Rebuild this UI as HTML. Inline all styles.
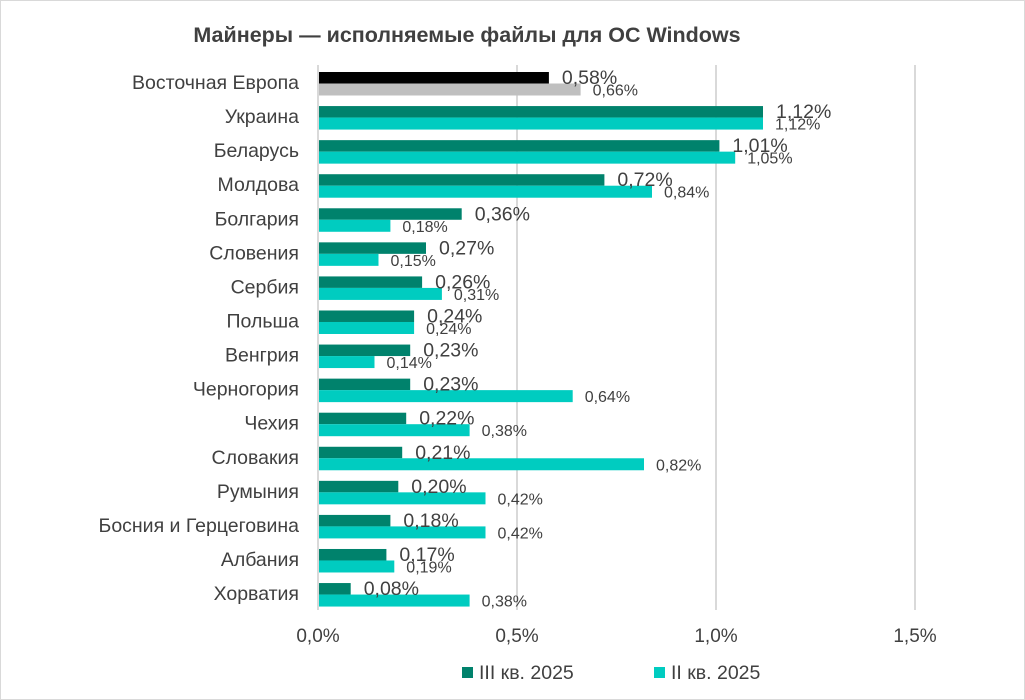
<!DOCTYPE html>
<html><head><meta charset="utf-8"><style>
html,body{margin:0;padding:0;background:#fff;}
svg{display:block;font-family:"Liberation Sans","DejaVu Sans",sans-serif;}
.n{font-size:19.5px;fill:#404040;text-anchor:end}
.a{font-size:19.5px;fill:#404040}
.b{font-size:16px;fill:#404040}
.d{fill:#00826c}.l{fill:#00ccc0}
</style></head><body>
<svg width="1025" height="700" viewBox="0 0 1025 700" xmlns="http://www.w3.org/2000/svg">
<rect x="0.5" y="0.5" width="1024" height="699" fill="#fff" stroke="#d9d9d9"/>
<text x="467" y="42" text-anchor="middle" font-size="21.5" font-weight="bold" fill="#404040">Майнеры — исполняемые файлы для ОС Windows</text>
<g stroke="#d9d9d9" stroke-width="2">
<line x1="318" y1="65" x2="318" y2="610"/>
<line x1="517" y1="65" x2="517" y2="610"/>
<line x1="716" y1="65" x2="716" y2="610"/>
<line x1="915" y1="65" x2="915" y2="610"/>
</g>

<rect x="319" y="72" width="229.9" height="11.5" fill="#000"/>
<rect x="319" y="83.5" width="261.6" height="12" fill="#bfbfbf"/>
<text class="a" x="561.9" y="84">0,58%</text><text class="b" x="592.6" y="95.5">0,66%</text>
<text class="n" x="299" y="89">Восточная Европа</text>

<rect class="d" x="319" y="106.07" width="444" height="11.5"/><rect class="l" x="319" y="117.57" width="444" height="12"/>
<text class="a" x="776" y="118.07">1,12%</text><text class="b" x="775" y="129.57">1,12%</text>
<text class="n" x="299" y="123.07">Украина</text>

<rect class="d" x="319" y="140.14" width="400.4" height="11.5"/><rect class="l" x="319" y="151.64" width="416.2" height="12"/>
<text class="a" x="732.4" y="152.14">1,01%</text><text class="b" x="747.2" y="163.64">1,05%</text>
<text class="n" x="299" y="157.14">Беларусь</text>

<rect class="d" x="319" y="174.21" width="285.4" height="11.5"/><rect class="l" x="319" y="185.71" width="333" height="12"/>
<text class="a" x="617.4" y="186.21">0,72%</text><text class="b" x="664" y="197.71">0,84%</text>
<text class="n" x="299" y="191.21">Молдова</text>

<rect class="d" x="319" y="208.28" width="142.7" height="11.5"/><rect class="l" x="319" y="219.78" width="71.4" height="12"/>
<text class="a" x="474.7" y="220.28">0,36%</text><text class="b" x="402.4" y="231.78">0,18%</text>
<text class="n" x="299" y="225.28">Болгария</text>

<rect class="d" x="319" y="242.35" width="107" height="11.5"/><rect class="l" x="319" y="253.85" width="59.5" height="12"/>
<text class="a" x="439" y="254.35">0,27%</text><text class="b" x="390.5" y="265.85">0,15%</text>
<text class="n" x="299" y="259.35">Словения</text>

<rect class="d" x="319" y="276.42" width="103.1" height="11.5"/><rect class="l" x="319" y="287.92" width="122.9" height="12"/>
<text class="a" x="435.1" y="288.42">0,26%</text><text class="b" x="453.9" y="299.92">0,31%</text>
<text class="n" x="299" y="293.42">Сербия</text>

<rect class="d" x="319" y="310.49" width="95.1" height="11.5"/><rect class="l" x="319" y="321.99" width="95.1" height="12"/>
<text class="a" x="427.1" y="322.49">0,24%</text><text class="b" x="426.1" y="333.99">0,24%</text>
<text class="n" x="299" y="327.49">Польша</text>

<rect class="d" x="319" y="344.56" width="91.2" height="11.5"/><rect class="l" x="319" y="356.06" width="55.5" height="12"/>
<text class="a" x="423.2" y="356.56">0,23%</text><text class="b" x="386.5" y="368.06">0,14%</text>
<text class="n" x="299" y="361.56">Венгрия</text>

<rect class="d" x="319" y="378.63" width="91.2" height="11.5"/><rect class="l" x="319" y="390.13" width="253.7" height="12"/>
<text class="a" x="423.2" y="390.63">0,23%</text><text class="b" x="584.7" y="402.13">0,64%</text>
<text class="n" x="299" y="395.63">Черногория</text>

<rect class="d" x="319" y="412.7" width="87.2" height="11.5"/><rect class="l" x="319" y="424.2" width="150.6" height="12"/>
<text class="a" x="419.2" y="424.7">0,22%</text><text class="b" x="481.6" y="436.2">0,38%</text>
<text class="n" x="299" y="429.7">Чехия</text>

<rect class="d" x="319" y="446.77" width="83.2" height="11.5"/><rect class="l" x="319" y="458.27" width="325" height="12"/>
<text class="a" x="415.2" y="458.77">0,21%</text><text class="b" x="656" y="470.27">0,82%</text>
<text class="n" x="299" y="463.77">Словакия</text>

<rect class="d" x="319" y="480.84" width="79.3" height="11.5"/><rect class="l" x="319" y="492.34" width="166.5" height="12"/>
<text class="a" x="411.3" y="492.84">0,20%</text><text class="b" x="497.5" y="504.34">0,42%</text>
<text class="n" x="299" y="497.84">Румыния</text>

<rect class="d" x="319" y="514.91" width="71.4" height="11.5"/><rect class="l" x="319" y="526.41" width="166.5" height="12"/>
<text class="a" x="403.4" y="526.91">0,18%</text><text class="b" x="497.5" y="538.41">0,42%</text>
<text class="n" x="299" y="531.91">Босния и Герцеговина</text>

<rect class="d" x="319" y="548.98" width="67.4" height="11.5"/><rect class="l" x="319" y="560.48" width="75.3" height="12"/>
<text class="a" x="399.4" y="560.98">0,17%</text><text class="b" x="406.3" y="572.48">0,19%</text>
<text class="n" x="299" y="565.98">Албания </text>

<rect class="d" x="319" y="583.05" width="31.7" height="11.5"/><rect class="l" x="319" y="594.55" width="150.6" height="12"/>
<text class="a" x="363.7" y="595.05">0,08%</text><text class="b" x="481.6" y="606.55">0,38%</text>
<text class="n" x="299" y="600.05">Хорватия</text>

<g font-size="19" fill="#404040" text-anchor="middle">
<text x="318" y="642">0,0%</text><text x="517" y="642">0,5%</text><text x="716" y="642">1,0%</text><text x="915" y="642">1,5%</text>
</g>
<rect x="462" y="667" width="11" height="11" fill="#00826c"/>
<text x="479" y="679" font-size="19.5" fill="#404040">III кв. 2025</text>
<rect x="654" y="667" width="11" height="11" fill="#00ccc0"/>
<text x="671" y="679" font-size="19.5" fill="#404040">II кв. 2025</text>
</svg>
</body></html>
